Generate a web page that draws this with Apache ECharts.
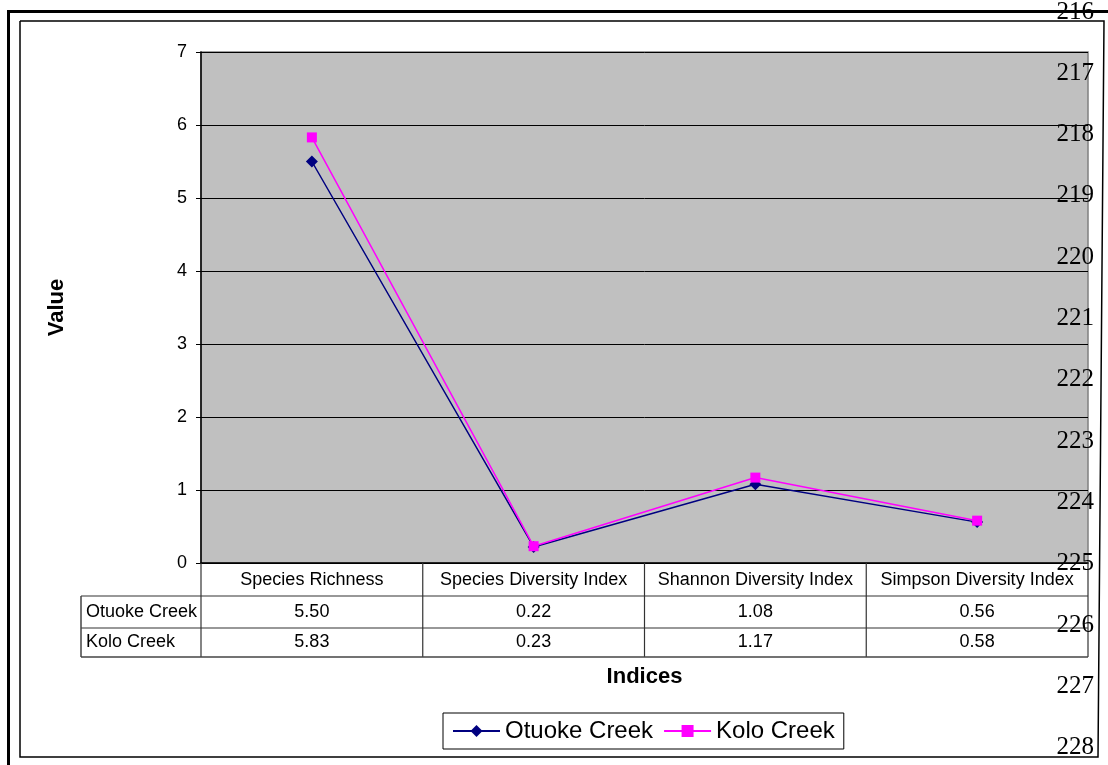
<!DOCTYPE html>
<html>
<head>
<meta charset="utf-8">
<script src="https://cdn.jsdelivr.net/npm/echarts@6/dist/echarts.min.js"></script>
<style>
  html, body { margin: 0; padding: 0; background: #fff; }
  #chart { width: 1108px; height: 765px; }
</style>
</head>
<body>
<div id="chart"></div>
<script>
// Diversity indices for the two creeks
const indices = ['Species Richness', 'Species Diversity Index', 'Shannon Diversity Index', 'Simpson Diversity Index'];
const otuokeCreek = [5.50, 0.22, 1.08, 0.56];
const koloCreek = [5.83, 0.23, 1.17, 0.58];
const seriesNames = ['Otuoke Creek', 'Kolo Creek'];
// Manuscript line numbers printed down the right margin
const lineNumbers = ['216', '217', '218', '219', '220', '221', '222', '223', '224', '225', '226', '227', '228'];

const W = 1108, H = 765;
const GRID = { left: 201, top: 52, right: 20, bottom: 202 };
const FONT = '"Liberation Sans", Arial, sans-serif';
const SERIF = '"Liberation Serif", "Times New Roman", serif';

const chart = echarts.init(document.getElementById('chart'), null, { renderer: 'canvas' });

chart.setOption({
  animation: false,
  backgroundColor: '#fff',
  textStyle: { fontFamily: FONT },
  grid: {
    left: GRID.left, top: GRID.top, right: GRID.right, bottom: GRID.bottom,
    show: true, backgroundColor: '#C0C0C0', borderColor: '#808080', borderWidth: 1.5
  },
  legend: {
    data: seriesNames,
    left: 443, top: 713,
    orient: 'horizontal',
    itemWidth: 47, itemHeight: 15, itemGap: 10,
    padding: [6, 9],
    borderColor: '#000', borderWidth: 1,
    textStyle: { fontFamily: FONT, fontSize: 24, color: '#000' }
  },
  xAxis: {
    type: 'category',
    data: indices,
    boundaryGap: true,
    name: 'Indices',
    nameLocation: 'middle',
    nameGap: 114,
    nameTextStyle: { fontFamily: FONT, fontSize: 22, fontWeight: 'bold', color: '#000', verticalAlign: 'middle' },
    axisLine: { lineStyle: { color: '#000', width: 1.5 } },
    axisTick: { show: false },
    axisLabel: { interval: 0, margin: 8, fontFamily: FONT, fontSize: 18, color: '#000' },
    splitLine: { show: false }
  },
  yAxis: {
    type: 'value',
    min: 0, max: 7, interval: 1,
    name: 'Value',
    nameLocation: 'middle',
    nameRotate: 90,
    nameGap: 144,
    nameTextStyle: { fontFamily: FONT, fontSize: 22, fontWeight: 'bold', color: '#000', verticalAlign: 'middle' },
    axisLine: { show: true, lineStyle: { color: '#000', width: 1.5 } },
    axisTick: { show: true, length: 5, lineStyle: { color: '#000' } },
    axisLabel: { margin: 14, fontFamily: FONT, fontSize: 18, color: '#000' },
    splitLine: { show: true, lineStyle: { color: '#000', width: 1 } }
  },
  series: [
    {
      name: seriesNames[0], type: 'line', data: otuokeCreek,
      symbol: 'diamond', symbolSize: 12,
      itemStyle: { color: '#000080' },
      lineStyle: { color: '#000080', width: 1.5 },
      z: 3
    },
    {
      name: seriesNames[1], type: 'line', data: koloCreek,
      symbol: 'rect', symbolSize: 10,
      itemStyle: { color: '#FF00FF' },
      lineStyle: { color: '#FF00FF', width: 1.5 },
      z: 4
    }
  ]
});

// Data table under the plot, positioned from the category axis
function buildGraphics() {
  const plotLeft = GRID.left;
  const plotRight = W - GRID.right;
  const plotBottom = H - GRID.bottom;
  const rowTops = [plotBottom, plotBottom + 33, plotBottom + 65, plotBottom + 94];
  const labelLeft = 81;
  const centers = indices.map((_, i) => chart.convertToPixel({ xAxisIndex: 0 }, i));
  const band = (plotRight - plotLeft) / indices.length;
  const bounds = [plotLeft].concat(centers.map(c => c + band / 2));

  const els = [];
  const lineColor = '#333';
  const addLine = (x1, y1, x2, y2, w, c) => els.push({
    type: 'line', shape: { x1, y1, x2, y2 }, silent: true, z: 10,
    style: { stroke: c || lineColor, lineWidth: w || 1 }
  });

  // column dividers
  bounds.forEach(x => addLine(x, rowTops[0], x, rowTops[3], 1.2));
  // row lines
  addLine(labelLeft, rowTops[1], plotRight, rowTops[1], 1.2);
  addLine(labelLeft, rowTops[2], plotRight, rowTops[2], 1.2);
  addLine(labelLeft, rowTops[3], plotRight, rowTops[3], 1.5, '#444');
  addLine(labelLeft, rowTops[1], labelLeft, rowTops[3], 1.5, '#444');

  const rows = [otuokeCreek, koloCreek];
  rows.forEach((vals, r) => {
    const cy = (rowTops[r + 1] + rowTops[r + 2]) / 2;
    els.push({
      type: 'text', silent: true, z: 11,
      style: { x: labelLeft + 5, y: cy, text: seriesNames[r], fill: '#000',
        font: '18px ' + FONT, textAlign: 'left', textVerticalAlign: 'middle' }
    });
    vals.forEach((v, i) => {
      els.push({
        type: 'text', silent: true, z: 11,
        style: { x: centers[i], y: cy, text: v.toFixed(2), fill: '#000',
          font: '18px ' + FONT, textAlign: 'center', textVerticalAlign: 'middle' }
      });
    });
  });

  // chart frame and page rules
  els.push({
    type: 'polyline', silent: true, z: 20,
    shape: { points: [[20, 21], [1104, 21], [1098, 757], [20, 757], [20, 21]] },
    style: { stroke: '#000', lineWidth: 1.5, fill: null }
  });
  addLine(7, 11.5, W, 11.5, 3, '#000');
  addLine(8.5, 10, 8.5, H, 3, '#000');

  // margin line numbers
  lineNumbers.forEach((t, i) => {
    els.push({
      type: 'text', silent: true, z: 30,
      style: { x: 1094, y: 12 + 61.3 * i, text: t, fill: '#000',
        font: '25px ' + SERIF, textAlign: 'right', textVerticalAlign: 'middle' }
    });
  });

  chart.setOption({ graphic: { elements: els } });
}
buildGraphics();
</script>
</body>
</html>
